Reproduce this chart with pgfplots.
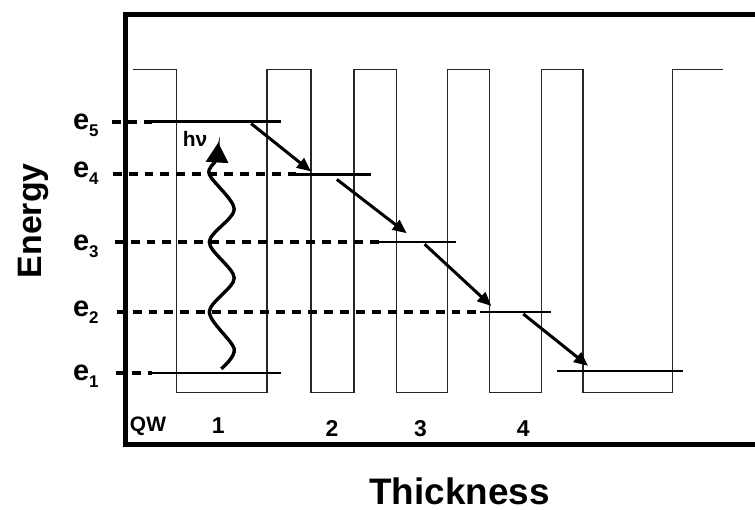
\documentclass[border=0pt]{standalone}
\usepackage{fontspec}
\setmainfont{Liberation Sans}
\usepackage{pgfplots}
\pgfplotsset{compat=1.18}
\usetikzlibrary{arrows.meta}

\newcommand{\lev}[1]{\fontsize{14.5}{14.5}\selectfont\bfseries e\raisebox{-3.5pt}{\fontsize{8.5}{8.5}\selectfont #1}}

\begin{document}
\begin{tikzpicture}
\begin{axis}[
  x=0.5pt, y=0.5pt,
  xmin=126, xmax=755, ymin=65.5, ymax=496.5,
  axis x line=box, axis y line=left,
  axis line style={-, line width=2.5pt, line cap=rect},
  xtick=\empty, ytick=\empty,
  clip=false,
  xlabel={Thickness}, ylabel={Energy},
  xlabel style={at={(axis cs:461,5)}, anchor=base, inner sep=0pt,
    font=\fontsize{18.5}{18.5}\selectfont\bfseries},
  ylabel style={at={(axis cs:42,289.5)}, anchor=base, rotate=0, inner sep=0pt,
    font=\fontsize{17}{17}\selectfont\bfseries},
]
% band profile
\addplot[black!85, line width=0.7pt] coordinates {
(133,441)(177,441)(177,117)(268,117)(268,441)(312,441)(312,117)(355,117)
(355,441)(398,441)(398,117)(449,117)(449,441)(491,441)(491,117)(543,117)
(543,441)(585,441)(585,117)(675,117)(675,441)(725,441)};

% dashed projections of the levels
\addplot[black, line width=2pt, dash pattern=on 4.5pt off 3.5pt] coordinates {(112,389)(153,389)};
\addplot[black, line width=2pt, dash pattern=on 4.5pt off 3.5pt] coordinates {(113,336)(297,336)};
\addplot[black, line width=2pt, dash pattern=on 4.5pt off 3.5pt] coordinates {(115,268)(380,268)};
\addplot[black, line width=2pt, dash pattern=on 4.5pt off 3.5pt] coordinates {(117,198)(482,198)};
\addplot[black, line width=2pt, dash pattern=on 4.5pt off 3.5pt] coordinates {(116,137)(153,137)};

% levels in the wells
\addplot[black, line width=1.2pt] coordinates {(153,389)(282,389)};
\addplot[black, line width=1.2pt] coordinates {(297,336)(372,336)};
\addplot[black, line width=1.2pt] coordinates {(380,268)(457,268)};
\addplot[black, line width=1.2pt] coordinates {(482,198)(553,198)};
\addplot[black, line width=1.2pt] coordinates {(153,137)(282,137)};
\addplot[black, line width=1.2pt] coordinates {(559,139)(685,139)};

% relaxation arrows
\addplot[black, line width=1.5pt, -{Triangle[length=7pt,width=6pt]}] coordinates {(252,387)(312,339)};
\addplot[black, line width=1.5pt, -{Triangle[length=7pt,width=6pt]}] coordinates {(338,331)(408,277)};
\addplot[black, line width=1.5pt, -{Triangle[length=7pt,width=6pt]}] coordinates {(426,266)(493,204)};
\addplot[black, line width=1.5pt, -{Triangle[length=7pt,width=6pt]}] coordinates {(525,196)(590,144)};

% photon
\addplot[black, line width=1.7pt, smooth, -{Triangle[length=10pt,width=11pt]}] coordinates {
(222,141)(235,161)(210,198)(235,232)(210,268)(235,301)(210,336)(217,351)(219,368)};

\node[anchor=base west, inner sep=0pt] at (axis cs:73,381) {\lev{5}};
\node[anchor=base west, inner sep=0pt] at (axis cs:73,333) {\lev{4}};
\node[anchor=base west, inner sep=0pt] at (axis cs:73,260) {\lev{3}};
\node[anchor=base west, inner sep=0pt] at (axis cs:73,193) {\lev{2}};
\node[anchor=base west, inner sep=0pt] at (axis cs:73,129) {\lev{1}};

\node[anchor=base west, inner sep=0pt, font=\fontsize{10.5}{10.5}\selectfont\bfseries] at (axis cs:183,364) {hν};
\node[anchor=base west, inner sep=0pt, font=\fontsize{10.5}{10.5}\selectfont\bfseries] at (axis cs:130,78) {QW};
\node[anchor=base, inner sep=0pt, font=\fontsize{11.5}{11.5}\selectfont\bfseries] at (axis cs:219,76) {1};
\node[anchor=base, inner sep=0pt, font=\fontsize{11.5}{11.5}\selectfont\bfseries] at (axis cs:333,73) {2};
\node[anchor=base, inner sep=0pt, font=\fontsize{11.5}{11.5}\selectfont\bfseries] at (axis cs:422,73) {3};
\node[anchor=base, inner sep=0pt, font=\fontsize{11.5}{11.5}\selectfont\bfseries] at (axis cs:525,73) {4};

\path (axis cs:0,0) rectangle (axis cs:755,511);
\end{axis}
\end{tikzpicture}
\end{document}
